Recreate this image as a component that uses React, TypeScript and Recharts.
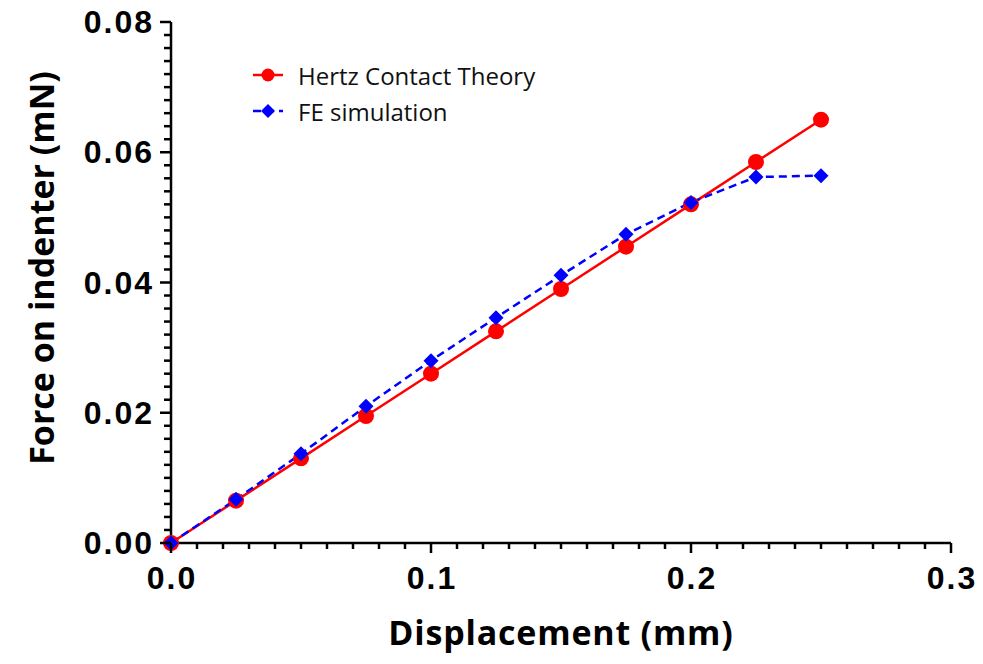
import React from 'react';
import { LineChart, Line, XAxis, YAxis } from 'recharts';

// displacement (mm)
const displacement = [0, 0.025, 0.05, 0.075, 0.1, 0.125, 0.15, 0.175, 0.2, 0.225, 0.25];
// force on indenter (mN)
const hertzForce = [0, 0.0065, 0.013, 0.0195, 0.026, 0.0325, 0.039, 0.0455, 0.052, 0.0585, 0.065];
const feForce = [0, 0.0067, 0.0137, 0.021, 0.028, 0.0346, 0.0411, 0.0474, 0.0523, 0.0562, 0.0564];

const xMajorTicks = [0, 0.1, 0.2, 0.3];
const yMajorTicks = [0, 0.02, 0.04, 0.06, 0.08];
const xMinorStep = 0.01;
const yMinorStep = 0.002;

const seriesNames = ['Hertz Contact Theory', 'FE simulation'];

const data = displacement.map((d, i) => ({
  d,
  hertz: hertzForce[i],
  fe: feForce[i],
}));

const xTicks = Array.from({ length: Math.round(0.3 / xMinorStep) + 1 }, (_, i) => +(i * xMinorStep).toFixed(4));
const yTicks = Array.from({ length: Math.round(0.08 / yMinorStep) + 1 }, (_, i) => +(i * yMinorStep).toFixed(4));

const isMajor = (list: number[], v: number) => list.some((m) => Math.abs(m - v) < 1e-9);

const tickFont = '"Liberation Sans", Arial, sans-serif';
const titleFont = '"Open Sans", sans-serif';

function XTick(props: any) {
  const { x, y, payload } = props;
  const major = isMajor(xMajorTicks, payload.value);
  return (
    <g>
      <line x1={x} x2={x} y1={y} y2={y + (major ? 10 : 6)} stroke="#000" strokeWidth={2.5} />
      {major && (
        <text
          x={x + 1}
          y={y + 46}
          textAnchor="middle"
          fontFamily={tickFont}
          fontWeight="bold"
          fontSize={32}
          letterSpacing={2}
          fill="#000"
        >
          {payload.value.toFixed(1)}
        </text>
      )}
    </g>
  );
}

function YTick(props: any) {
  const { x, y, payload } = props;
  const major = isMajor(yMajorTicks, payload.value);
  return (
    <g>
      <line x1={x - (major ? 11 : 7)} x2={x} y1={y} y2={y} stroke="#000" strokeWidth={2.5} />
      {major && (
        <text
          x={x - 17}
          y={y + 11}
          textAnchor="end"
          fontFamily={tickFont}
          fontWeight="bold"
          fontSize={32}
          letterSpacing={2}
          fill="#000"
        >
          {payload.value.toFixed(2)}
        </text>
      )}
    </g>
  );
}

function Diamond(props: any) {
  const { cx, cy, index } = props;
  const s = 7.5;
  return (
    <polygon
      key={`fe-${index}`}
      points={`${cx},${cy - s} ${cx + s},${cy} ${cx},${cy + s} ${cx - s},${cy}`}
      fill="#0000ff"
    />
  );
}

function Legend() {
  const row: React.CSSProperties = { display: 'flex', alignItems: 'center', height: 36 };
  const text: React.CSSProperties = { fontFamily: titleFont, fontSize: 24, color: '#111', marginLeft: 15 };
  return (
    <div style={{ position: 'absolute', left: 245, top: 49 }}>
      <div style={row}>
        <svg width={30} height={20}>
          <line x1={0} x2={30} y1={10} y2={10} stroke="#ff0000" strokeWidth={2.5} />
          <circle cx={15} cy={10} r={6.5} fill="#ff0000" />
        </svg>
        <span style={text}>{seriesNames[0]}</span>
      </div>
      <div style={row}>
        <svg width={30} height={20}>
          <line x1={0} x2={30} y1={10} y2={10} stroke="#0000ff" strokeWidth={2.5} strokeDasharray="8 5" />
          <polygon points="15,3 22,10 15,17 8,10" fill="#0000ff" />
        </svg>
        <span style={text}>{seriesNames[1]}</span>
      </div>
    </div>
  );
}

export default function App() {
  return (
    <div style={{ position: 'relative', width: 967, height: 648 }}>
      <LineChart width={967} height={648} data={data} margin={{ top: 14, right: 24, bottom: 13, left: 13 }}>
        <XAxis
          dataKey="d"
          type="number"
          domain={[0, 0.3]}
          ticks={xTicks}
          interval={0}
          tick={XTick}
          tickLine={false}
          tickSize={0}
          tickMargin={0}
          height={100}
          axisLine={{ stroke: '#000', strokeWidth: 2.5 }}
          label={({ viewBox }: any) => (
            <text
              x={viewBox.x + viewBox.width / 2}
              y={viewBox.y + 102}
              textAnchor="middle"
              fontFamily={titleFont}
              fontWeight="bold"
              fontSize={34}
              letterSpacing={0.8}
              fill="#000"
            >
              Displacement (mm)
            </text>
          )}
        />
        <YAxis
          type="number"
          domain={[0, 0.08]}
          ticks={yTicks}
          interval={0}
          tick={YTick}
          tickLine={false}
          tickSize={0}
          tickMargin={0}
          width={150}
          axisLine={{ stroke: '#000', strokeWidth: 2.5 }}
          label={({ viewBox }: any) => {
            const cx = viewBox.x + 20;
            const cy = viewBox.y + 246;
            return (
              <text
                x={cx}
                y={cy}
                transform={`rotate(-90, ${cx}, ${cy})`}
                textAnchor="middle"
                dominantBaseline="central"
                fontFamily={titleFont}
                fontWeight="bold"
                fontSize={34}
                fill="#000"
              >
                Force on indenter (mN)
              </text>
            );
          }}
        />
        <Line
          dataKey="hertz"
          name={seriesNames[0]}
          stroke="#ff0000"
          strokeWidth={2.5}
          dot={{ r: 8, fill: '#ff0000', stroke: 'none' }}
          activeDot={false}
          isAnimationActive={false}
        />
        <Line
          dataKey="fe"
          name={seriesNames[1]}
          stroke="#0000ff"
          strokeWidth={2.5}
          strokeDasharray="8 5"
          dot={Diamond}
          activeDot={false}
          isAnimationActive={false}
        />
      </LineChart>
      <Legend />
    </div>
  );
}
